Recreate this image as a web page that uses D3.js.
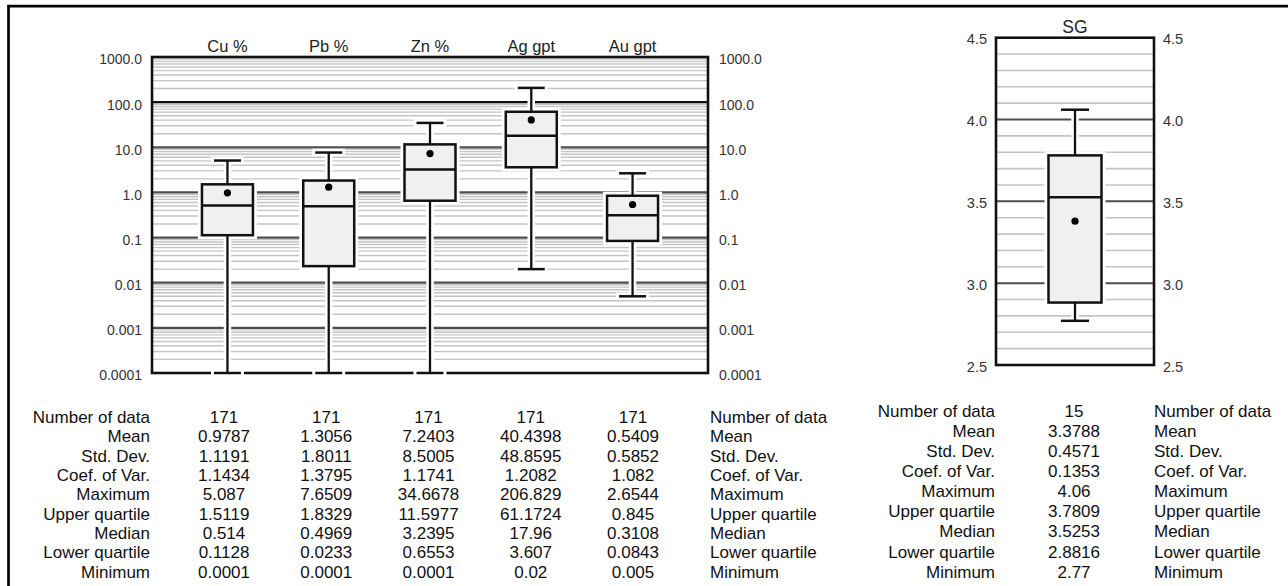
<!DOCTYPE html>
<html>
<head>
<meta charset="utf-8">
<script src="https://cdn.jsdelivr.net/npm/d3@7"></script>
<style>
  html, body { margin: 0; padding: 0; background: #fff; }
  svg { display: block; font-family: "Liberation Sans", Arial, sans-serif; }
</style>
</head>
<body>
<svg id="chart" width="1288" height="586"></svg>
<script>
// ---- Assay statistics (log-scale panel) ----
const categories   = ["Cu %", "Pb %", "Zn %", "Ag gpt", "Au gpt"];
const numData      = [171, 171, 171, 171, 171];
const meanVals     = [0.9787, 1.3056, 7.2403, 40.4398, 0.5409];
const stdDevVals   = [1.1191, 1.8011, 8.5005, 48.8595, 0.5852];
const coefVarVals  = [1.1434, 1.3795, 1.1741, 1.2082, 1.082];
const maxVals      = [5.087, 7.6509, 34.6678, 206.829, 2.6544];
const upperQVals   = [1.5119, 1.8329, 11.5977, 61.1724, 0.845];
const medianVals   = [0.514, 0.4969, 3.2395, 17.96, 0.3108];
const lowerQVals   = [0.1128, 0.0233, 0.6553, 3.607, 0.0843];
const minVals      = [0.0001, 0.0001, 0.0001, 0.02, 0.005];

const logTicks      = [1000, 100, 10, 1, 0.1, 0.01, 0.001, 0.0001];
const logTickLabels = ["1000.0", "100.0", "10.0", "1.0", "0.1", "0.01", "0.001", "0.0001"];

// ---- Specific gravity statistics (linear panel) ----
const sgCategory = "SG";
const sgNumData  = 15;
const sgMean     = 3.3788;
const sgStdDev   = 0.4571;
const sgCoefVar  = 0.1353;
const sgMax      = 4.06;
const sgUpperQ   = 3.7809;
const sgMedian   = 3.5253;
const sgLowerQ   = 2.8816;
const sgMin      = 2.77;

const sgTicks      = [4.5, 4.0, 3.5, 3.0, 2.5];
const sgTickLabels = ["4.5", "4.0", "3.5", "3.0", "2.5"];

const rowLabels = ["Number of data", "Mean", "Std. Dev.", "Coef. of Var.", "Maximum",
                   "Upper quartile", "Median", "Lower quartile", "Minimum"];

// ---------------------------------------------------------------
const svg = d3.select("#chart");
svg.append("rect").attr("width", 1288).attr("height", 586).attr("fill", "#fff");

// outer frame (runs off the right and bottom edges)
svg.append("path")
  .attr("d", "M8.5,620 V6.2 H1320")
  .attr("fill", "none").attr("stroke", "#000").attr("stroke-width", 2.7);

const GRID_MINOR = "#c4c4c4", GRID_MAJOR = "#4e4e4e";
const BOX_FILL = "#f0f0f0", INK = "#111";

// ---------- log panel ----------
const L = { x0: 152, x1: 708, top: 57, bottom: 373 };
const y = d3.scaleLog().domain([0.0001, 1000]).range([L.bottom, L.top]);
const x = d3.scalePoint().domain(categories).range([L.x0, L.x1]).padding(0.745);

const gL = svg.append("g");

// gridlines at 1..9 x each decade
const gridVals = [];
for (let e = -4; e <= 2; e++) {
  for (let k = 1; k <= 9; k++) gridVals.push({ v: k * Math.pow(10, e), major: k === 1 });
}
gL.selectAll("line.grid").data(gridVals.filter(d => !d.major)).join("line")
  .attr("x1", L.x0).attr("x2", L.x1)
  .attr("y1", d => y(d.v)).attr("y2", d => y(d.v))
  .attr("stroke", GRID_MINOR).attr("stroke-width", 1.4);
gL.selectAll("line.major").data(gridVals.filter(d => d.major)).join("line")
  .attr("x1", L.x0).attr("x2", L.x1)
  .attr("y1", d => y(d.v)).attr("y2", d => y(d.v))
  .attr("stroke", d => d.v === 100 ? "#111" : GRID_MAJOR).attr("stroke-width", 2.2);

gL.append("rect")
  .attr("x", L.x0).attr("y", L.top).attr("width", L.x1 - L.x0).attr("height", L.bottom - L.top)
  .attr("fill", "none").attr("stroke", INK).attr("stroke-width", 2.6);

// axes on both sides
const axL = d3.axisLeft(y).tickValues(logTicks).tickFormat((d, i) => logTickLabels[i]).tickSize(0).tickPadding(10);
const axR = d3.axisRight(y).tickValues(logTicks).tickFormat((d, i) => logTickLabels[i]).tickSize(0).tickPadding(11);
function styleAxis(g, size, dy) {
  g.select(".domain").remove();
  g.selectAll("text").attr("font-size", size).attr("fill", "#333")
    .attr("font-family", "'Liberation Sans', Arial, sans-serif")
    .attr("transform", `translate(0,${dy})`);
}
gL.append("g").attr("transform", `translate(${L.x0},0)`).call(axL).call(g => styleAxis(g, 14, 2.5));
gL.append("g").attr("transform", `translate(${L.x1},0)`).call(axR).call(g => styleAxis(g, 14, 2.5));

// column titles
gL.selectAll("text.title").data(categories).join("text")
  .attr("x", d => x(d)).attr("y", 51.5).attr("text-anchor", "middle")
  .attr("font-size", 16.5).attr("fill", "#222").text(d => d);

// draw one box-and-whisker with a white halo that breaks the grid
function drawBox(g, cx, s, ys, boxW, capW) {
  const hb = boxW / 2, hc = capW / 2;
  const halo = g.append("g").attr("stroke", "#fff").attr("fill", "#fff");
  halo.append("line").attr("x1", cx).attr("x2", cx).attr("y1", ys(s.uq)).attr("y2", ys(s.max)).attr("stroke-width", 7.5);
  halo.append("line").attr("x1", cx).attr("x2", cx).attr("y1", ys(s.lq)).attr("y2", ys(s.min)).attr("stroke-width", 7.5);
  [s.max, s.min].forEach(v => halo.append("line")
    .attr("x1", cx - hc - 3).attr("x2", cx + hc + 3).attr("y1", ys(v)).attr("y2", ys(v)).attr("stroke-width", 7.5));
  halo.append("rect").attr("x", cx - hb).attr("width", boxW)
    .attr("y", ys(s.uq)).attr("height", ys(s.lq) - ys(s.uq)).attr("stroke-width", 8);

  const m = g.append("g").attr("stroke", INK);
  m.append("line").attr("x1", cx).attr("x2", cx).attr("y1", ys(s.uq)).attr("y2", ys(s.max)).attr("stroke-width", 2.3);
  m.append("line").attr("x1", cx).attr("x2", cx).attr("y1", ys(s.lq)).attr("y2", ys(s.min)).attr("stroke-width", 2.3);
  [s.max, s.min].forEach(v => m.append("line")
    .attr("x1", cx - hc).attr("x2", cx + hc).attr("y1", ys(v)).attr("y2", ys(v)).attr("stroke-width", 2.5));
  m.append("rect").attr("x", cx - hb).attr("width", boxW)
    .attr("y", ys(s.uq)).attr("height", ys(s.lq) - ys(s.uq))
    .attr("fill", BOX_FILL).attr("stroke-width", 2.5);
  m.append("line").attr("x1", cx - hb).attr("x2", cx + hb).attr("y1", ys(s.med)).attr("y2", ys(s.med)).attr("stroke-width", 2.5);
  g.append("circle").attr("cx", cx).attr("cy", ys(s.mean)).attr("r", 3.6).attr("fill", "#000");
}

categories.forEach((c, i) => {
  drawBox(gL, x(c), { max: maxVals[i], uq: upperQVals[i], med: medianVals[i], lq: lowerQVals[i], min: minVals[i], mean: meanVals[i] }, y, 51, 27);
});

// statistics table under the log panel
const colX = d3.scalePoint().domain(categories).range([224, 633]);
const tableRowsL = [numData, meanVals, stdDevVals, coefVarVals, maxVals, upperQVals, medianVals, lowerQVals, minVals];
const rowY = i => 423 + i * 19.33;
const tL = svg.append("g").attr("font-size", 17).attr("fill", "#111");
rowLabels.forEach((lab, i) => {
  tL.append("text").attr("x", 150).attr("y", rowY(i)).attr("text-anchor", "end").text(lab);
  tL.append("text").attr("x", 710).attr("y", rowY(i)).attr("text-anchor", "start").text(lab);
  categories.forEach((c, j) => {
    tL.append("text").attr("x", colX(c)).attr("y", rowY(i)).attr("text-anchor", "middle").text(String(tableRowsL[i][j]));
  });
});

// ---------- SG panel ----------
const S = { x0: 996, x1: 1154, top: 37.7, bottom: 365 };
const ys = d3.scaleLinear().domain([2.5, 4.5]).range([S.bottom, S.top]);
const xs = d3.scalePoint().domain([sgCategory]).range([S.x0, S.x1]).padding(0.5);
const gS = svg.append("g");

const sgGrid = d3.range(26, 45).map(v => ({ v: v / 10, major: v % 5 === 0 }));
gS.selectAll("line.g").data(sgGrid).join("line")
  .attr("x1", S.x0).attr("x2", S.x1)
  .attr("y1", d => ys(d.v)).attr("y2", d => ys(d.v))
  .attr("stroke", d => d.major ? GRID_MAJOR : GRID_MINOR)
  .attr("stroke-width", d => d.major ? 2 : 1.6);

gS.append("rect")
  .attr("x", S.x0).attr("y", S.top).attr("width", S.x1 - S.x0).attr("height", S.bottom - S.top)
  .attr("fill", "none").attr("stroke", INK).attr("stroke-width", 2.6);

const axSL = d3.axisLeft(ys).tickValues(sgTicks).tickFormat((d, i) => sgTickLabels[i]).tickSize(0).tickPadding(9);
const axSR = d3.axisRight(ys).tickValues(sgTicks).tickFormat((d, i) => sgTickLabels[i]).tickSize(0).tickPadding(9);
gS.append("g").attr("transform", `translate(${S.x0},0)`).call(axSL).call(g => styleAxis(g, 14.5, 1.5));
gS.append("g").attr("transform", `translate(${S.x1},0)`).call(axSR).call(g => styleAxis(g, 14.5, 1.5));

gS.append("text").attr("x", xs(sgCategory)).attr("y", 32.5).attr("text-anchor", "middle")
  .attr("font-size", 17.5).attr("fill", "#222").text(sgCategory);

drawBox(gS, xs(sgCategory), { max: sgMax, uq: sgUpperQ, med: sgMedian, lq: sgLowerQ, min: sgMin, mean: sgMean }, ys, 53, 28);

// statistics table under the SG panel
const sgRows = [sgNumData, sgMean, sgStdDev, sgCoefVar, sgMax, sgUpperQ, sgMedian, sgLowerQ, sgMin];
const rowYS = i => 416.7 + i * 20.12;
const tS = svg.append("g").attr("font-size", 17).attr("fill", "#111");
rowLabels.forEach((lab, i) => {
  tS.append("text").attr("x", 995).attr("y", rowYS(i)).attr("text-anchor", "end").text(lab);
  tS.append("text").attr("x", 1074).attr("y", rowYS(i)).attr("text-anchor", "middle").text(String(sgRows[i]));
  tS.append("text").attr("x", 1154).attr("y", rowYS(i)).attr("text-anchor", "start").text(lab);
});
</script>
</body>
</html>
